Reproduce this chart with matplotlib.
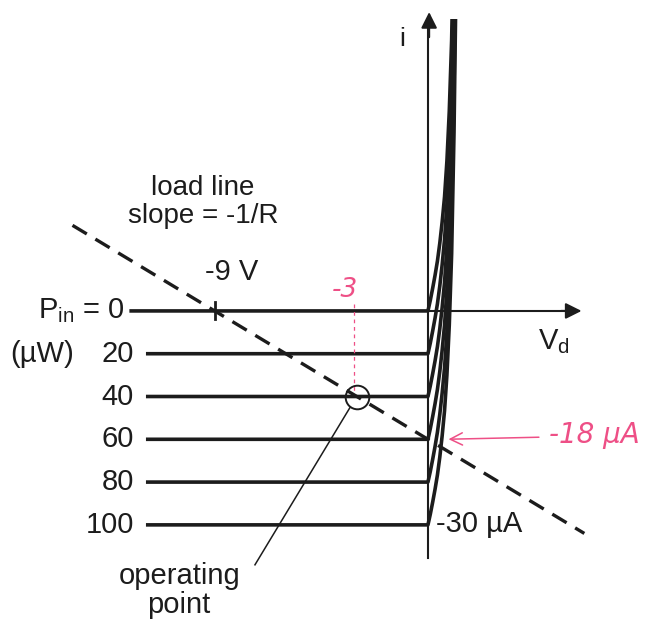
import matplotlib.pyplot as plt
from matplotlib.patches import Rectangle

plt.rcParams['font.family'] = ['Liberation Sans', 'DejaVu Sans']
plt.rcParams['mathtext.fontset'] = 'custom'
plt.rcParams['mathtext.rm'] = 'Liberation Sans'
plt.rcParams['mathtext.it'] = 'Liberation Sans'

# optical power levels (uW) and the photocurrent each one gives (uA)
power = [0, 20, 40, 60, 80, 100]
photocurrent = [0, -6, -12, -18, -24, -30]
curve_start = [-12.6, -11.9, -11.9, -11.9, -11.9, -11.9]

# dark diode curve (V, uA)
dark_v = [0.0, 0.1, 0.2, 0.3, 0.4, 0.5, 0.6, 0.7, 0.8, 0.9, 1.0, 1.1, 1.2]
dark_i = [0.0, 1.5, 3.2, 5.0, 7.0, 9.5, 12.5, 16.0, 21.0, 28.0, 38.0, 55.0, 80.0]

# load line through the -9 V bias point
load_v = [-15.0, 6.6]
load_i = [12.0, -31.2]
bias_v = -9.0

op_v, op_i = -3.0, -12.0
current_top = 41.0

ink = '#1c1c1c'
pink = '#ee4f86'

fig = plt.figure(figsize=(6.45, 6.23), dpi=100)
ax = fig.add_axes([0, 0, 1, 1])
ax.set_xlim(-18.06, 9.16)
ax.set_ylim(-43.76, 43.6)
ax.axis('off')

clip = Rectangle((-20, -50), 40, 50 + current_top, transform=ax.transData)

for p, iph, v0 in zip(power, photocurrent, curve_start):
    vs = [v0] + dark_v
    cs = [iph] + [d + iph for d in dark_i]
    line, = ax.plot(vs, cs, color=ink, lw=2.6, solid_capstyle='butt', solid_joinstyle='round')
    line.set_clip_path(clip)

# axes with arrowheads
ax.plot([0, 0], [-34.7, 41.0], color=ink, lw=1.5)
ax.annotate('', xy=(0.05, 42.3), xytext=(0.05, 38.0),
            arrowprops=dict(arrowstyle='-|>', color=ink, lw=1.5, mutation_scale=24))
ax.plot([0, 6.0], [0, 0], color=ink, lw=1.5)
ax.annotate('', xy=(6.6, 0), xytext=(5.5, 0),
            arrowprops=dict(arrowstyle='-|>', color=ink, lw=1.5, mutation_scale=24))

# load line
ax.plot(load_v, load_i, color=ink, lw=2.4, dashes=(5, 3))
ax.plot([bias_v, bias_v], [-1.2, 1.2], color=ink, lw=2)

# operating point
ax.plot([op_v], [op_i], marker='o', ms=17, mfc='none', mec=ink, mew=1.4)
ax.plot([-3.3, -7.3], [-13.6, -35.6], color=ink, lw=1.1)

fs = 21
ax.text(-1.1, 38.2, 'i', fontsize=19, color=ink, ha='center', va='center')
ax.text(5.3, -4.3, r'V$_\mathrm{d}$', fontsize=fs, color=ink, ha='center', va='center')
ax.text(-9.5, 17.2, 'load line', fontsize=fs - 1, color=ink, ha='center', va='center')
ax.text(-9.5, 13.3, 'slope = -1/R', fontsize=fs - 1, color=ink, ha='center', va='center')
ax.text(-8.3, 5.4, '-9 V', fontsize=fs, color=ink, ha='center', va='center')
ax.text(-10.5, -37.2, 'operating', fontsize=fs, color=ink, ha='center', va='center')
ax.text(-10.5, -41.3, 'point', fontsize=fs, color=ink, ha='center', va='center')
ax.text(0.35, -29.9, '-30 \u00b5A', fontsize=fs, color=ink, ha='left', va='center')

ax.text(-12.8, 0, r'P$_\mathrm{in}$ = 0', fontsize=fs, color=ink, ha='right', va='center')
ax.text(-16.3, -6, '(\u00b5W)', fontsize=fs, color=ink, ha='center', va='center')
for p, iph in zip(power[1:], photocurrent[1:]):
    ax.text(-12.4, iph, str(p), fontsize=fs, color=ink, ha='right', va='center')

# handwritten notes
ax.plot([-3.1, -3.1], [1.0, -11.3], color=pink, lw=0.9, ls=(0, (3, 3)))
ax.text(-3.5, 2.9, '-3', fontsize=19, color=pink, style='italic', ha='center', va='center',
        family=['DejaVu Sans'])
ax.annotate('', xy=(0.75, -18.0), xytext=(4.8, -17.7),
            arrowprops=dict(arrowstyle='->', color=pink, lw=1.1, mutation_scale=22))
ax.text(5.1, -17.4, '-18 \u00b5A', fontsize=20, color=pink, style='italic', ha='left', va='center',
        family=['DejaVu Sans'])

fig.savefig('out.png', dpi=100)
